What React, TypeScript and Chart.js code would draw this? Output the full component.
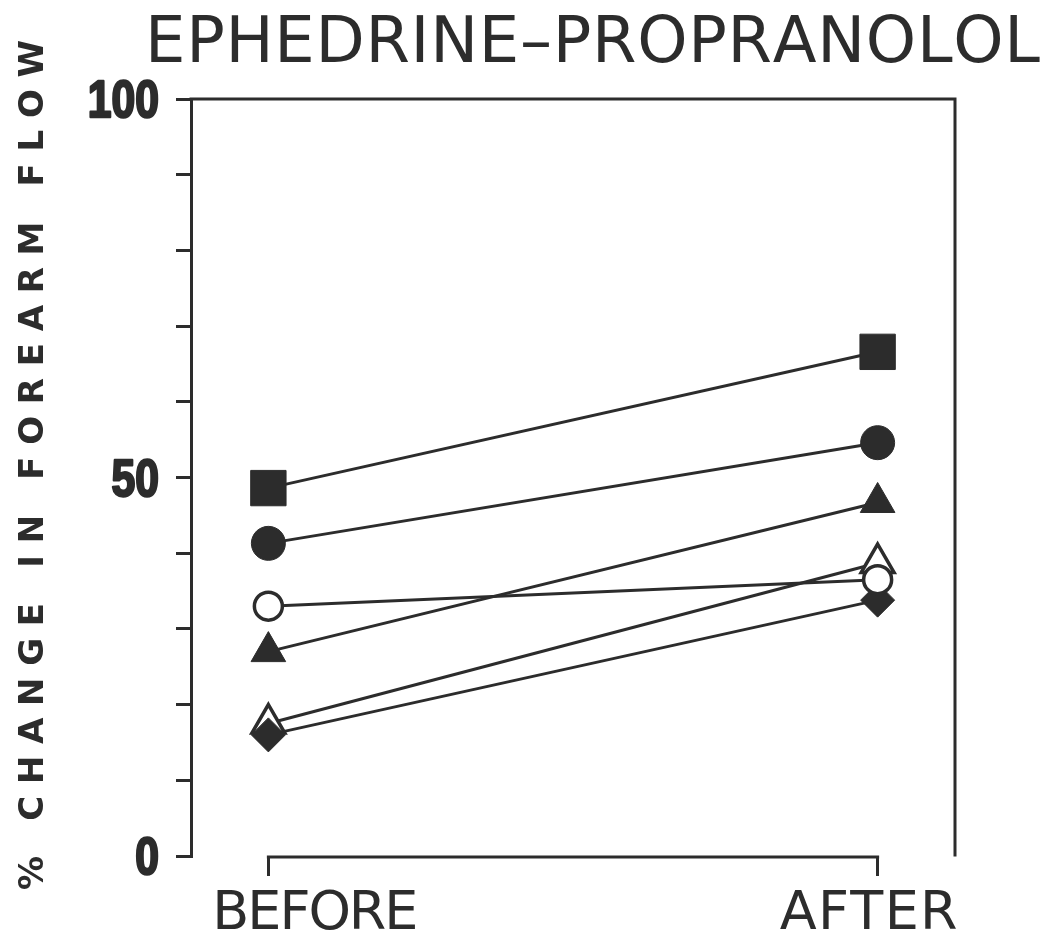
import React, { useEffect, useRef } from 'react';
import { Chart, registerables } from 'chart.js';

Chart.register(...registerables);

// Phases on the x axis and their positions on the linear scale
const phaseLabels = ['BEFORE', 'AFTER'];
const phasePositions = [0, 1];

// % change in forearm flow per subject, [before, after]
const squareFilled = [48.6, 66.6];
const circleFilled = [41.3, 54.6];
const circleOpen = [33.0, 36.5];
const triangleFilled = [27.0, 46.7];
const triangleOpen = [17.5, 38.7];
const diamondFilled = [16.0, 33.8];

// Y axis ticks: marks every 10, numbers only on these
const yLabeledTicks = [0, 50, 100];

const titleText = 'EPHEDRINE\u2013PROPRANOLOL';
const yTitleText = '% CHANGE IN FOREARM FLOW';

const INK = '#2c2c2c';
const PAPER = '#ffffff';

type SeriesDef = {
  values: number[];
  style: string;
  radius: number;
  filled: boolean;
};

const series: SeriesDef[] = [
  { values: circleOpen, style: 'circle', radius: 14, filled: false },
  { values: diamondFilled, style: 'rectRot', radius: 17, filled: true },
  { values: squareFilled, style: 'rect', radius: 25, filled: true },
  { values: circleFilled, style: 'circle', radius: 17, filled: true },
  { values: triangleFilled, style: 'triangle', radius: 20, filled: true },
  { values: triangleOpen, style: 'triangle', radius: 19, filled: false },
];

// Draw a string letter by letter so that it spans [start, end] along the baseline
function drawSpread(ctx: CanvasRenderingContext2D, text: string, start: number, end: number) {
  const chars = Array.from(text);
  const widths = chars.map((c) => ctx.measureText(c).width);
  const natural = widths.reduce((a, b) => a + b, 0);
  const gap = chars.length > 1 ? (end - start - natural) / (chars.length - 1) : 0;
  let x = start;
  ctx.textAlign = 'left';
  chars.forEach((c, i) => {
    ctx.fillText(c, x, 0);
    x += widths[i] + gap;
  });
}

const framePlugin = {
  id: 'frameAndLettering',
  afterDraw(chart: any) {
    const { ctx, chartArea, scales } = chart;
    const { left, right, top, bottom } = chartArea;
    const xs = scales.x;
    const ys = scales.y;
    ctx.save();
    ctx.strokeStyle = INK;
    ctx.fillStyle = INK;
    ctx.lineWidth = 3;
    ctx.lineCap = 'square';

    // top and right sides of the frame
    ctx.beginPath();
    ctx.moveTo(left, top);
    ctx.lineTo(right, top);
    ctx.lineTo(right, bottom - 1);
    ctx.stroke();

    // bracket joining the two phase ticks
    const x0 = xs.getPixelForValue(phasePositions[0]);
    const x1 = xs.getPixelForValue(phasePositions[1]);
    ctx.beginPath();
    ctx.moveTo(x0, bottom + 1);
    ctx.lineTo(x1, bottom + 1);
    ctx.stroke();

    ctx.textBaseline = 'alphabetic';

    // condensed heavy numbers on the y axis
    ctx.font = '700 52px "Liberation Sans", Arial, sans-serif';
    ctx.textAlign = 'right';
    ctx.lineJoin = 'round';
    yLabeledTicks.forEach((v) => {
      const y = ys.getPixelForValue(v);
      ctx.save();
      ctx.translate(159, y + 18);
      ctx.scale(0.82, 1);
      ctx.lineWidth = 2.5;
      ctx.fillText(String(v), 0, 0);
      ctx.strokeText(String(v), 0, 0);
      ctx.restore();
    });

    // chart title
    ctx.save();
    ctx.font = '400 64px "DejaVu Sans", sans-serif';
    ctx.translate(0, 62);
    drawSpread(ctx, titleText, 145, 1040);
    ctx.restore();

    // phase labels
    ctx.font = '400 54px "DejaVu Sans", sans-serif';
    const phaseSpans = [
      [x0 - 56, x0 + 150],
      [x1 - 98, x1 + 80],
    ];
    phaseLabels.forEach((label, i) => {
      ctx.save();
      ctx.translate(0, 929);
      drawSpread(ctx, label, phaseSpans[i][0], phaseSpans[i][1]);
      ctx.restore();
    });

    // rotated y axis title
    ctx.save();
    ctx.font = '700 34px "DejaVu Sans", sans-serif';
    ctx.translate(43, 890);
    ctx.rotate(-Math.PI / 2);
    drawSpread(ctx, yTitleText, 0, 850);
    ctx.restore();

    ctx.restore();
  },
};

export default function App() {
  const canvasRef = useRef<HTMLCanvasElement | null>(null);

  useEffect(() => {
    const canvas = canvasRef.current;
    if (!canvas) return;

    const datasets = series.map((s) => ({
      data: s.values.map((v, i) => ({ x: phasePositions[i], y: v })),
      borderColor: INK,
      borderWidth: 3,
      pointStyle: s.style,
      pointRadius: s.radius,
      pointHoverRadius: s.radius,
      pointBackgroundColor: s.filled ? INK : PAPER,
      pointBorderColor: INK,
      pointBorderWidth: s.filled ? 1 : 3.5,
      showLine: true,
      fill: false,
      tension: 0,
    }));

    const chart = new Chart(canvas, {
      type: 'line',
      data: { datasets },
      plugins: [framePlugin],
      options: {
        responsive: false,
        animation: false,
        devicePixelRatio: 1,
        layout: { padding: { top: 99, right: 93, left: 0, bottom: 0 } },
        plugins: {
          legend: { display: false },
          tooltip: { enabled: false },
          title: { display: false },
        },
        scales: {
          x: {
            type: 'linear',
            min: -0.127,
            max: 1.127,
            border: { display: false },
            grid: {
              drawOnChartArea: false,
              drawTicks: true,
              tickLength: 20,
              color: INK,
              lineWidth: 3,
            },
            ticks: { display: false },
            afterBuildTicks: (scale: any) => {
              scale.ticks = phasePositions.map((value) => ({ value }));
            },
            afterFit: (scale: any) => {
              scale.height = 79;
            },
          },
          y: {
            type: 'linear',
            min: 0,
            max: 100,
            border: { display: true, color: INK, width: 3 },
            grid: {
              drawOnChartArea: false,
              drawTicks: true,
              tickLength: 15,
              color: INK,
              lineWidth: 3,
            },
            ticks: {
              stepSize: 10,
              autoSkip: false,
              display: true,
              color: 'rgba(0,0,0,0)',
              callback: () => '',
            },
            afterFit: (scale: any) => {
              scale.width = 191;
            },
          },
        },
      },
    } as any);

    return () => chart.destroy();
  }, []);

  return (
    <div style={{ position: 'absolute', left: 0, top: 0, width: 1048, height: 935, background: PAPER }}>
      <canvas ref={canvasRef} width={1048} height={935} style={{ display: 'block' }} />
    </div>
  );
}
